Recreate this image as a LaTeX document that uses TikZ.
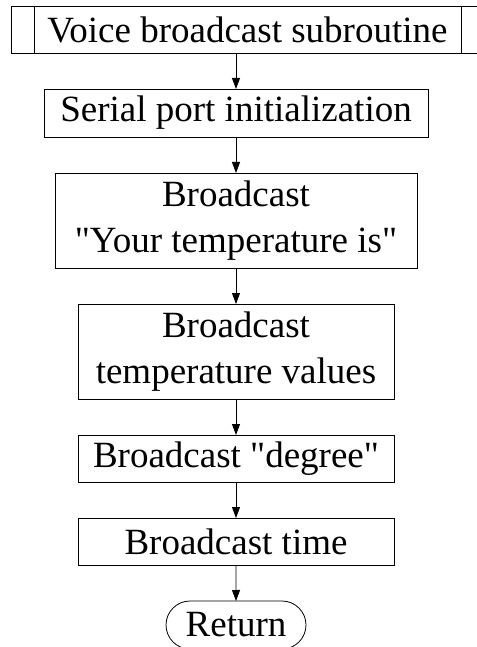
\documentclass[tikz,border=0pt]{standalone}
\usepackage{fontspec}
\newfontfamily\flowfont{Liberation Serif}
\usetikzlibrary{
  arrows.meta,
  positioning,
  shapes.misc
}

\begin{document}
\begin{tikzpicture}[x=1pt, y=1pt,
    line width=0.8pt,
    node distance=36pt,
  every node/.style = {draw, align=center,
    inner sep=0pt, outer sep=0pt,
    font=\flowfont\fontsize{37}{46}\selectfont},
  flow/.style = {-{Triangle[length=11pt, width=8pt]}}]
    \useasboundingbox (0,0) rectangle (476,-647);

    % subroutine header, runs off the right edge
    \node[minimum width=473pt, minimum height=47pt] (sub) at (247.5,-29.5)
      {Voice broadcast subroutine};
    \draw ([xshift=23pt]sub.north west) -- ([xshift=23pt]sub.south west);
    \draw ([xshift=-23pt]sub.north east) -- ([xshift=-23pt]sub.south east);

    \node[minimum width=384pt, minimum height=48pt] (serial) at (236,-113)
      {Serial port initialization};
    \node[minimum width=362pt, minimum height=95pt, below=of serial] (tempis)
      {Broadcast\\ "Your temperature is"};
    \node[minimum width=316pt, minimum height=95pt, below=of tempis] (values)
      {Broadcast\\temperature values};
    \node[minimum width=316pt, minimum height=47pt, below=of values] (degree)
      {Broadcast "degree"};
    \node[minimum width=316pt, minimum height=47pt, below=of degree] (time)
      {Broadcast time};
    \node[shape=rounded rectangle, minimum width=140pt, minimum height=48pt,
      below=of time] (ret) {Return};

    \draw[flow] (sub.south -| serial.north) -- (serial.north);
    \foreach \a/\b in {serial/tempis, tempis/values, values/degree,
                       degree/time, time/ret}
      \draw[flow] (\a) -- (\b);
\end{tikzpicture}
\end{document}
